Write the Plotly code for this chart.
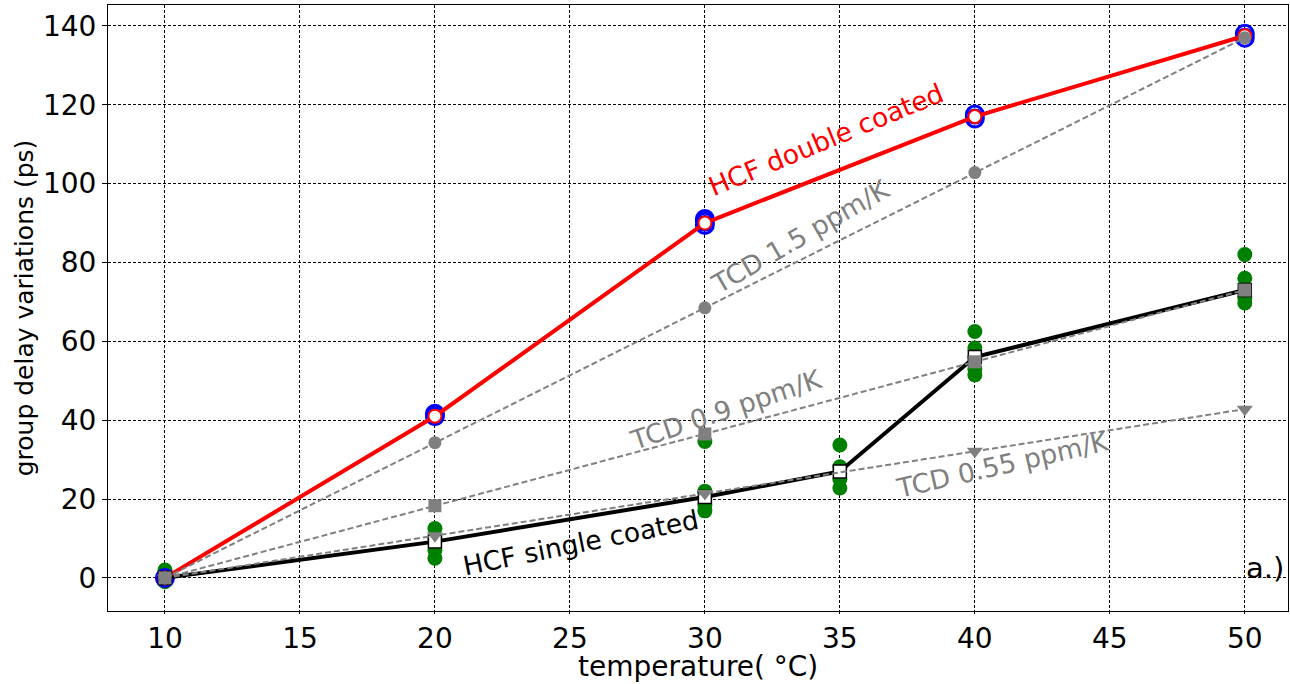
import plotly.graph_objects as go

temps = [10, 20, 30, 40, 50]
temps_single = [10, 20, 30, 35, 40, 50]

double_coated = [0, 41, 90, 117, 137.5]
blue_x = [10, 20, 20, 30, 30, 30, 40, 40, 50, 50]
blue_y = [0, 41, 41.6, 89.5, 90.3, 91, 116.5, 117.5, 137, 138]

single_coated = [0, 9.2, 20.5, 27, 56, 73]
green_x = [10, 10, 10, 20, 20, 20, 20, 30, 30, 30, 30, 35, 35, 35, 35, 40, 40, 40, 40, 40, 50, 50, 50, 50]
green_y = [-1, 0.5, 2, 5, 7, 10, 12.5, 17, 18.5, 22, 34.6, 22.8, 25, 28.2, 33.7, 51.5, 53, 58.3, 62.5, 56, 69.7, 71, 76, 82]

tcd_15 = [0, 34.3, 68.5, 102.8, 137]
tcd_09 = [0, 18.3, 36.5, 54.8, 73]
tcd_055 = [0, 10.7, 21.4, 32.1, 42.8]

fig = go.Figure()
fig.add_trace(go.Scatter(x=green_x, y=green_y, mode="markers",
                         marker=dict(color="green", size=15, line=dict(width=0))))
fig.add_trace(go.Scatter(x=blue_x, y=blue_y, mode="markers",
                         marker=dict(color="rgba(0,0,0,0)", size=17, line=dict(color="blue", width=3))))
fig.add_trace(go.Scatter(x=temps, y=double_coated, mode="lines+markers",
                         line=dict(color="red", width=4),
                         marker=dict(color="white", size=13, line=dict(color="red", width=2))))
fig.add_trace(go.Scatter(x=temps_single, y=single_coated, mode="lines+markers",
                         line=dict(color="black", width=4),
                         marker=dict(symbol="square", color="white", size=13, line=dict(color="black", width=1.5))))
gray = "#808080"
fig.add_trace(go.Scatter(x=temps, y=tcd_15, mode="lines+markers",
                         line=dict(color=gray, width=2, dash="6px,3px"),
                         marker=dict(symbol="circle", color=gray, size=13)))
fig.add_trace(go.Scatter(x=temps, y=tcd_09, mode="lines+markers",
                         line=dict(color=gray, width=2, dash="6px,3px"),
                         marker=dict(symbol="square", color=gray, size=13)))
fig.add_trace(go.Scatter(x=temps, y=tcd_055, mode="lines+markers",
                         line=dict(color=gray, width=2, dash="6px,3px"),
                         marker=dict(symbol="triangle-down", color=gray, size=14)))

font = "DejaVu Sans"
annots = [
    dict(x=34.48, y=111.3, text="HCF double coated", textangle=-22.5, color="red"),
    dict(x=33.52, y=86.7, text="TCD 1.5 ppm/K", textangle=-30, color=gray),
    dict(x=30.78, y=42.6, text="TCD 0.9 ppm/K", textangle=-18.5, color=gray),
    dict(x=41.04, y=28.7, text="TCD 0.55 ppm/K", textangle=-12.8, color=gray),
    dict(x=25.4, y=8.9, text="HCF single coated", textangle=-11.4, color="black"),
]
for a in annots:
    fig.add_annotation(x=a["x"], y=a["y"], xref="x", yref="y", text=a["text"],
                       textangle=a["textangle"], showarrow=False,
                       font=dict(family=font, size=26.5, color=a["color"]))
fig.add_annotation(x=50.74, y=2.6, xref="x", yref="y", text="a.)", showarrow=False,
                   font=dict(family=font, size=29, color="black"))
# x-axis title
fig.add_annotation(x=0.5, y=-0.1205, xref="paper", yref="paper", text="temperature( °C)",
                   showarrow=False, xanchor="center", yanchor="bottom", borderpad=0,
                   font=dict(family=font, size=28, color="black"))

axis_common = dict(showgrid=True, gridcolor="black", griddash="3px,2px", gridwidth=1,
                   showline=True, linecolor="black", linewidth=1, mirror=True,
                   tickcolor="black", zeroline=False,
                   tickfont=dict(family=font, size=28, color="black"))
fig.update_xaxes(range=[7.89, 51.6], tickvals=[10, 15, 20, 25, 30, 35, 40, 45, 50],
                 ticks="outside", ticklen=2, **axis_common)
fig.update_yaxes(range=[-8.4, 145.3], tickvals=[0, 20, 40, 60, 80, 100, 120, 140],
                 ticks="outside", ticklen=5,
                 title=dict(text="group delay variations (ps)", font=dict(family=font, size=25, color="black"), standoff=2),
                 **axis_common)
fig.update_layout(width=1290, height=684, margin=dict(l=108, r=2, t=5, b=73),
                  plot_bgcolor="white", paper_bgcolor="white", showlegend=False)
fig.write_html("out.html")
